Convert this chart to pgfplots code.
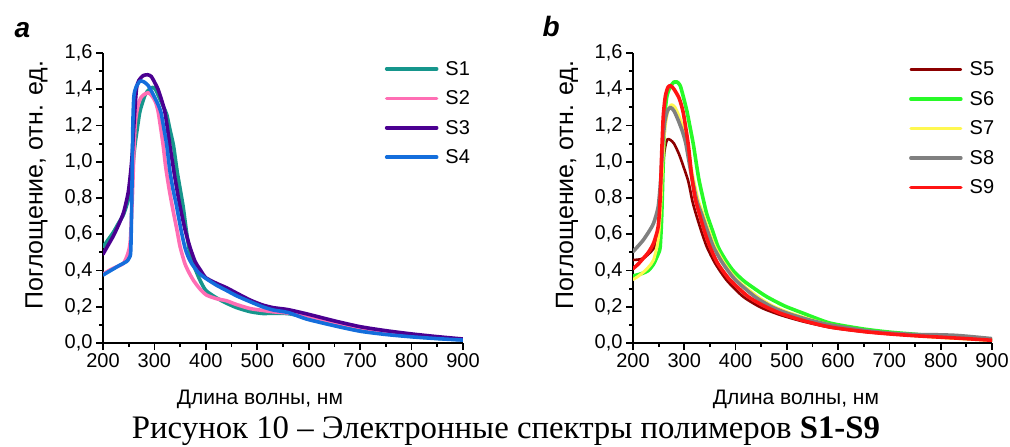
\documentclass[border=0pt]{standalone}
\usepackage{pgfplots}
\pgfplotsset{compat=1.18}
\usepackage{fontspec}
\setmainfont{Liberation Sans}
\newfontfamily\captionserif{Liberation Serif}
\definecolor{cS1}{RGB}{22,150,140}
\definecolor{cS2}{RGB}{255,110,180}
\definecolor{cS3}{RGB}{75,0,145}
\definecolor{cS4}{RGB}{20,110,220}
\definecolor{cS5}{RGB}{140,0,0}
\definecolor{cS6}{RGB}{40,250,40}
\definecolor{cS7}{RGB}{255,248,80}
\definecolor{cS8}{RGB}{128,128,128}
\definecolor{cS9}{RGB}{255,20,20}
\pgfplotsset{
  spec/.style={
    width=360bp, height=290bp, scale only axis,
    xmin=200, xmax=900, ymin=0, ymax=1.6,
    axis lines=left, axis line style={line width=2.2bp, -, black},
    xtick={200,300,400,500,600,700,800,900},
    ytick={0,0.2,0.4,0.6,0.8,1.0,1.2,1.4,1.6},
    minor x tick num=1, minor y tick num=1,
    tick align=outside, major tick length=7bp, minor tick length=4bp,
    every tick/.style={line width=1.8bp, black},
    tick label style={font=\fontsize{20bp}{24bp}\selectfont},
    /pgf/number format/assume math mode=true,
    yticklabel style={/pgf/number format/.cd, fixed, fixed zerofill, precision=1, use comma},
    xticklabel style={/pgf/number format/.cd, fixed, precision=0, 1000 sep={}},
    legend cell align=left,
    legend image code/.code={\draw[##1] (0bp,0bp) -- (50bp,0bp);},
    legend style={draw=none, fill=none, anchor=north west, inner sep=0pt, outer sep=0pt,
      row sep=14bp, font=\fontsize{20bp}{24bp}\selectfont, nodes={inner sep=0pt},
      /tikz/every odd column/.append style={column sep=7bp}},
    every axis plot/.append style={smooth, tension=0.4, line join=round, line cap=round, line width=3.6bp},
  }
}
\begin{document}
\begin{tikzpicture}
\path[use as bounding box] (0,0) rectangle (1010bp,447bp);
% ---------------- panel a ----------------
\begin{axis}[spec, at={(103bp,104bp)}, anchor=south west,
  legend style={at={(axis description cs:0.783,0.972)}}]
\addplot[cS1] coordinates {
(200,0.53) (210,0.57) (220,0.61) (230,0.66) (240,0.71) (250,0.80) (256,0.92) (262,1.09)
(267,1.19) (272,1.28) (282,1.37) (290,1.40) (296,1.41) (302,1.40) (310,1.35) (318,1.30)
(324,1.26) (330,1.18) (337,1.09) (344,0.95) (350,0.85) (356,0.75) (362,0.62) (368,0.51)
(375,0.44) (388,0.35) (400,0.29) (420,0.25) (440,0.22) (460,0.195) (486,0.173) (510,0.163)
(531,0.164) (560,0.162) (600,0.14) (650,0.105) (700,0.074) (750,0.052) (800,0.037)
(850,0.026) (900,0.018)};
\addlegendentry{S1}
\addplot[cS2] coordinates {
(200,0.38) (215,0.405) (230,0.425) (240,0.44) (248,0.49) (253,0.56) (257,0.80) (260,1.05)
(263,1.22) (268,1.31) (274,1.355) (282,1.375) (289,1.38) (296,1.36) (302,1.33) (307,1.28)
(312,1.19) (317,1.09) (322,0.97) (328,0.86) (333,0.78) (337,0.72) (344,0.62) (350,0.53)
(359,0.44) (367,0.39) (376,0.345) (388,0.30) (401,0.265) (420,0.245) (440,0.233) (460,0.212)
(486,0.19) (510,0.18) (531,0.172) (560,0.165) (600,0.147) (650,0.115) (700,0.085)
(750,0.062) (800,0.044) (850,0.029) (900,0.018)};
\addlegendentry{S2}
\addplot[cS3] coordinates {
(200,0.49) (210,0.54) (220,0.59) (230,0.65) (240,0.72) (249,0.83) (254,0.95) (257,1.05)
(260,1.20) (265,1.40) (270,1.45) (278,1.475) (287,1.48) (294,1.47) (300,1.44) (307,1.40)
(314,1.34) (320,1.28) (325,1.19) (330,1.09) (335,1.00) (340,0.91) (348,0.78) (353,0.71)
(360,0.62) (369,0.53) (379,0.45) (390,0.40) (400,0.36) (420,0.33) (440,0.305) (460,0.275)
(486,0.237) (510,0.21) (531,0.195) (560,0.184) (600,0.158) (650,0.122) (700,0.09)
(750,0.068) (800,0.05) (850,0.035) (900,0.022)};
\addlegendentry{S3}
\addplot[cS4] coordinates {
(200,0.375) (215,0.40) (230,0.425) (246,0.45) (251,0.47) (254,0.51) (256,0.80) (258,1.20)
(260,1.36) (264,1.41) (272,1.445) (280,1.44) (288,1.42) (296,1.38) (303,1.34) (308,1.31)
(313,1.27) (318,1.19) (324,1.09) (330,0.95) (336,0.85) (342,0.77) (346,0.71) (352,0.62)
(359,0.53) (365,0.48) (372,0.44) (385,0.39) (398,0.36) (420,0.32) (440,0.29) (460,0.26)
(486,0.228) (510,0.20) (531,0.182) (560,0.168) (596,0.132) (650,0.095) (700,0.065)
(750,0.047) (800,0.034) (850,0.024) (900,0.016)};
\addlegendentry{S4}
\end{axis}
% ---------------- panel b ----------------
\begin{axis}[spec, at={(633bp,104bp)}, anchor=south west, width=359bp,
  legend style={at={(axis description cs:0.769,0.969)}}]
\addplot[cS5, line width=2.6bp] coordinates {
(200,0.458) (210,0.46) (220,0.467) (230,0.49) (240,0.52) (248,0.58) (253,0.70) (257,0.90)
(261,1.05) (265,1.11) (268,1.125) (273,1.12) (280,1.10) (290,1.04) (300,0.96) (308,0.89)
(316,0.78) (324,0.70) (334,0.61) (344,0.53) (360,0.44) (383,0.345) (415,0.255) (450,0.195)
(487,0.155) (530,0.12) (584,0.086) (650,0.062) (700,0.05) (750,0.04) (800,0.032)
(850,0.024) (900,0.015)};
\addlegendentry{S5}
\addplot[cS6] coordinates {
(200,0.37) (210,0.377) (220,0.386) (230,0.40) (240,0.435) (249,0.49) (253,0.53) (256,0.70)
(259,1.00) (262,1.25) (266,1.36) (272,1.41) (280,1.44) (286,1.44) (292,1.42) (298,1.36)
(305,1.28) (312,1.18) (318,1.09) (328,0.91) (338,0.78) (344,0.71) (355,0.62) (366,0.53)
(380,0.46) (395,0.40) (415,0.345) (437,0.30) (461,0.255) (495,0.205) (532,0.164)
(584,0.11) (650,0.077) (700,0.06) (750,0.048) (800,0.036) (850,0.026) (900,0.017)};
\addlegendentry{S6}
\addplot[cS7, line width=3bp] coordinates {
(200,0.35) (210,0.368) (220,0.39) (230,0.418) (240,0.458) (249,0.568) (254,0.75) (258,1.00)
(262,1.18) (268,1.28) (275,1.315) (282,1.30) (290,1.25) (298,1.18) (306,1.08) (316,0.93)
(327,0.79) (337,0.71) (348,0.62) (360,0.53) (378,0.44) (402,0.35) (442,0.258) (472,0.205)
(502,0.17) (540,0.135) (584,0.10) (650,0.068) (700,0.052) (750,0.04) (800,0.03)
(850,0.022) (900,0.014)};
\addlegendentry{S7}
\addplot[cS8] coordinates {
(200,0.504) (210,0.535) (220,0.568) (230,0.61) (240,0.66) (249,0.75) (254,0.90) (258,1.10)
(262,1.22) (267,1.28) (273,1.30) (280,1.28) (288,1.23) (296,1.17) (303,1.10) (313,0.94)
(324,0.79) (334,0.71) (345,0.62) (357,0.53) (375,0.44) (399,0.35) (438,0.255) (470,0.20)
(500,0.165) (540,0.13) (584,0.10) (650,0.07) (700,0.055) (750,0.047) (800,0.045)
(830,0.042) (860,0.035) (900,0.024)};
\addlegendentry{S8}
\addplot[cS9] coordinates {
(200,0.41) (210,0.435) (220,0.467) (230,0.50) (240,0.55) (249,0.64) (253,0.80) (256,1.05)
(259,1.25) (263,1.36) (268,1.41) (273,1.42) (280,1.40) (290,1.35) (298,1.27) (308,1.09)
(314,0.93) (321,0.80) (329,0.716) (340,0.61) (350,0.531) (365,0.44) (389,0.348) (425,0.255)
(455,0.205) (487,0.164) (530,0.125) (584,0.088) (650,0.063) (700,0.05) (750,0.04)
(800,0.032) (850,0.024) (900,0.015)};
\addlegendentry{S9}
\end{axis}
% ---------------- texts ----------------
\node[anchor=base west, font=\fontsize{28bp}{30bp}\selectfont\bfseries\itshape] at (11bp,409bp) {a};
\node[anchor=base west, font=\fontsize{28bp}{30bp}\selectfont\bfseries\itshape] at (539bp,410bp) {b};
\node[rotate=90, anchor=base, font=\fontsize{25bp}{28bp}\selectfont] at (42.7bp,262bp) {Поглощение, отн. ед.};
\node[rotate=90, anchor=base, font=\fontsize{25bp}{28bp}\selectfont] at (573bp,262bp) {Поглощение, отн. ед.};
\node[anchor=base, font=\fontsize{21bp}{24bp}\selectfont] at (260bp,42bp) {Длина волны, нм};
\node[anchor=base, font=\fontsize{21bp}{24bp}\selectfont] at (796bp,42bp) {Длина волны, нм};
\node[anchor=base, font=\fontsize{32.8bp}{36bp}\selectfont\captionserif] at (506bp,9bp) {Рисунок 10 – Электронные спектры полимеров \textbf{S1-S9}};
\end{tikzpicture}
\end{document}
